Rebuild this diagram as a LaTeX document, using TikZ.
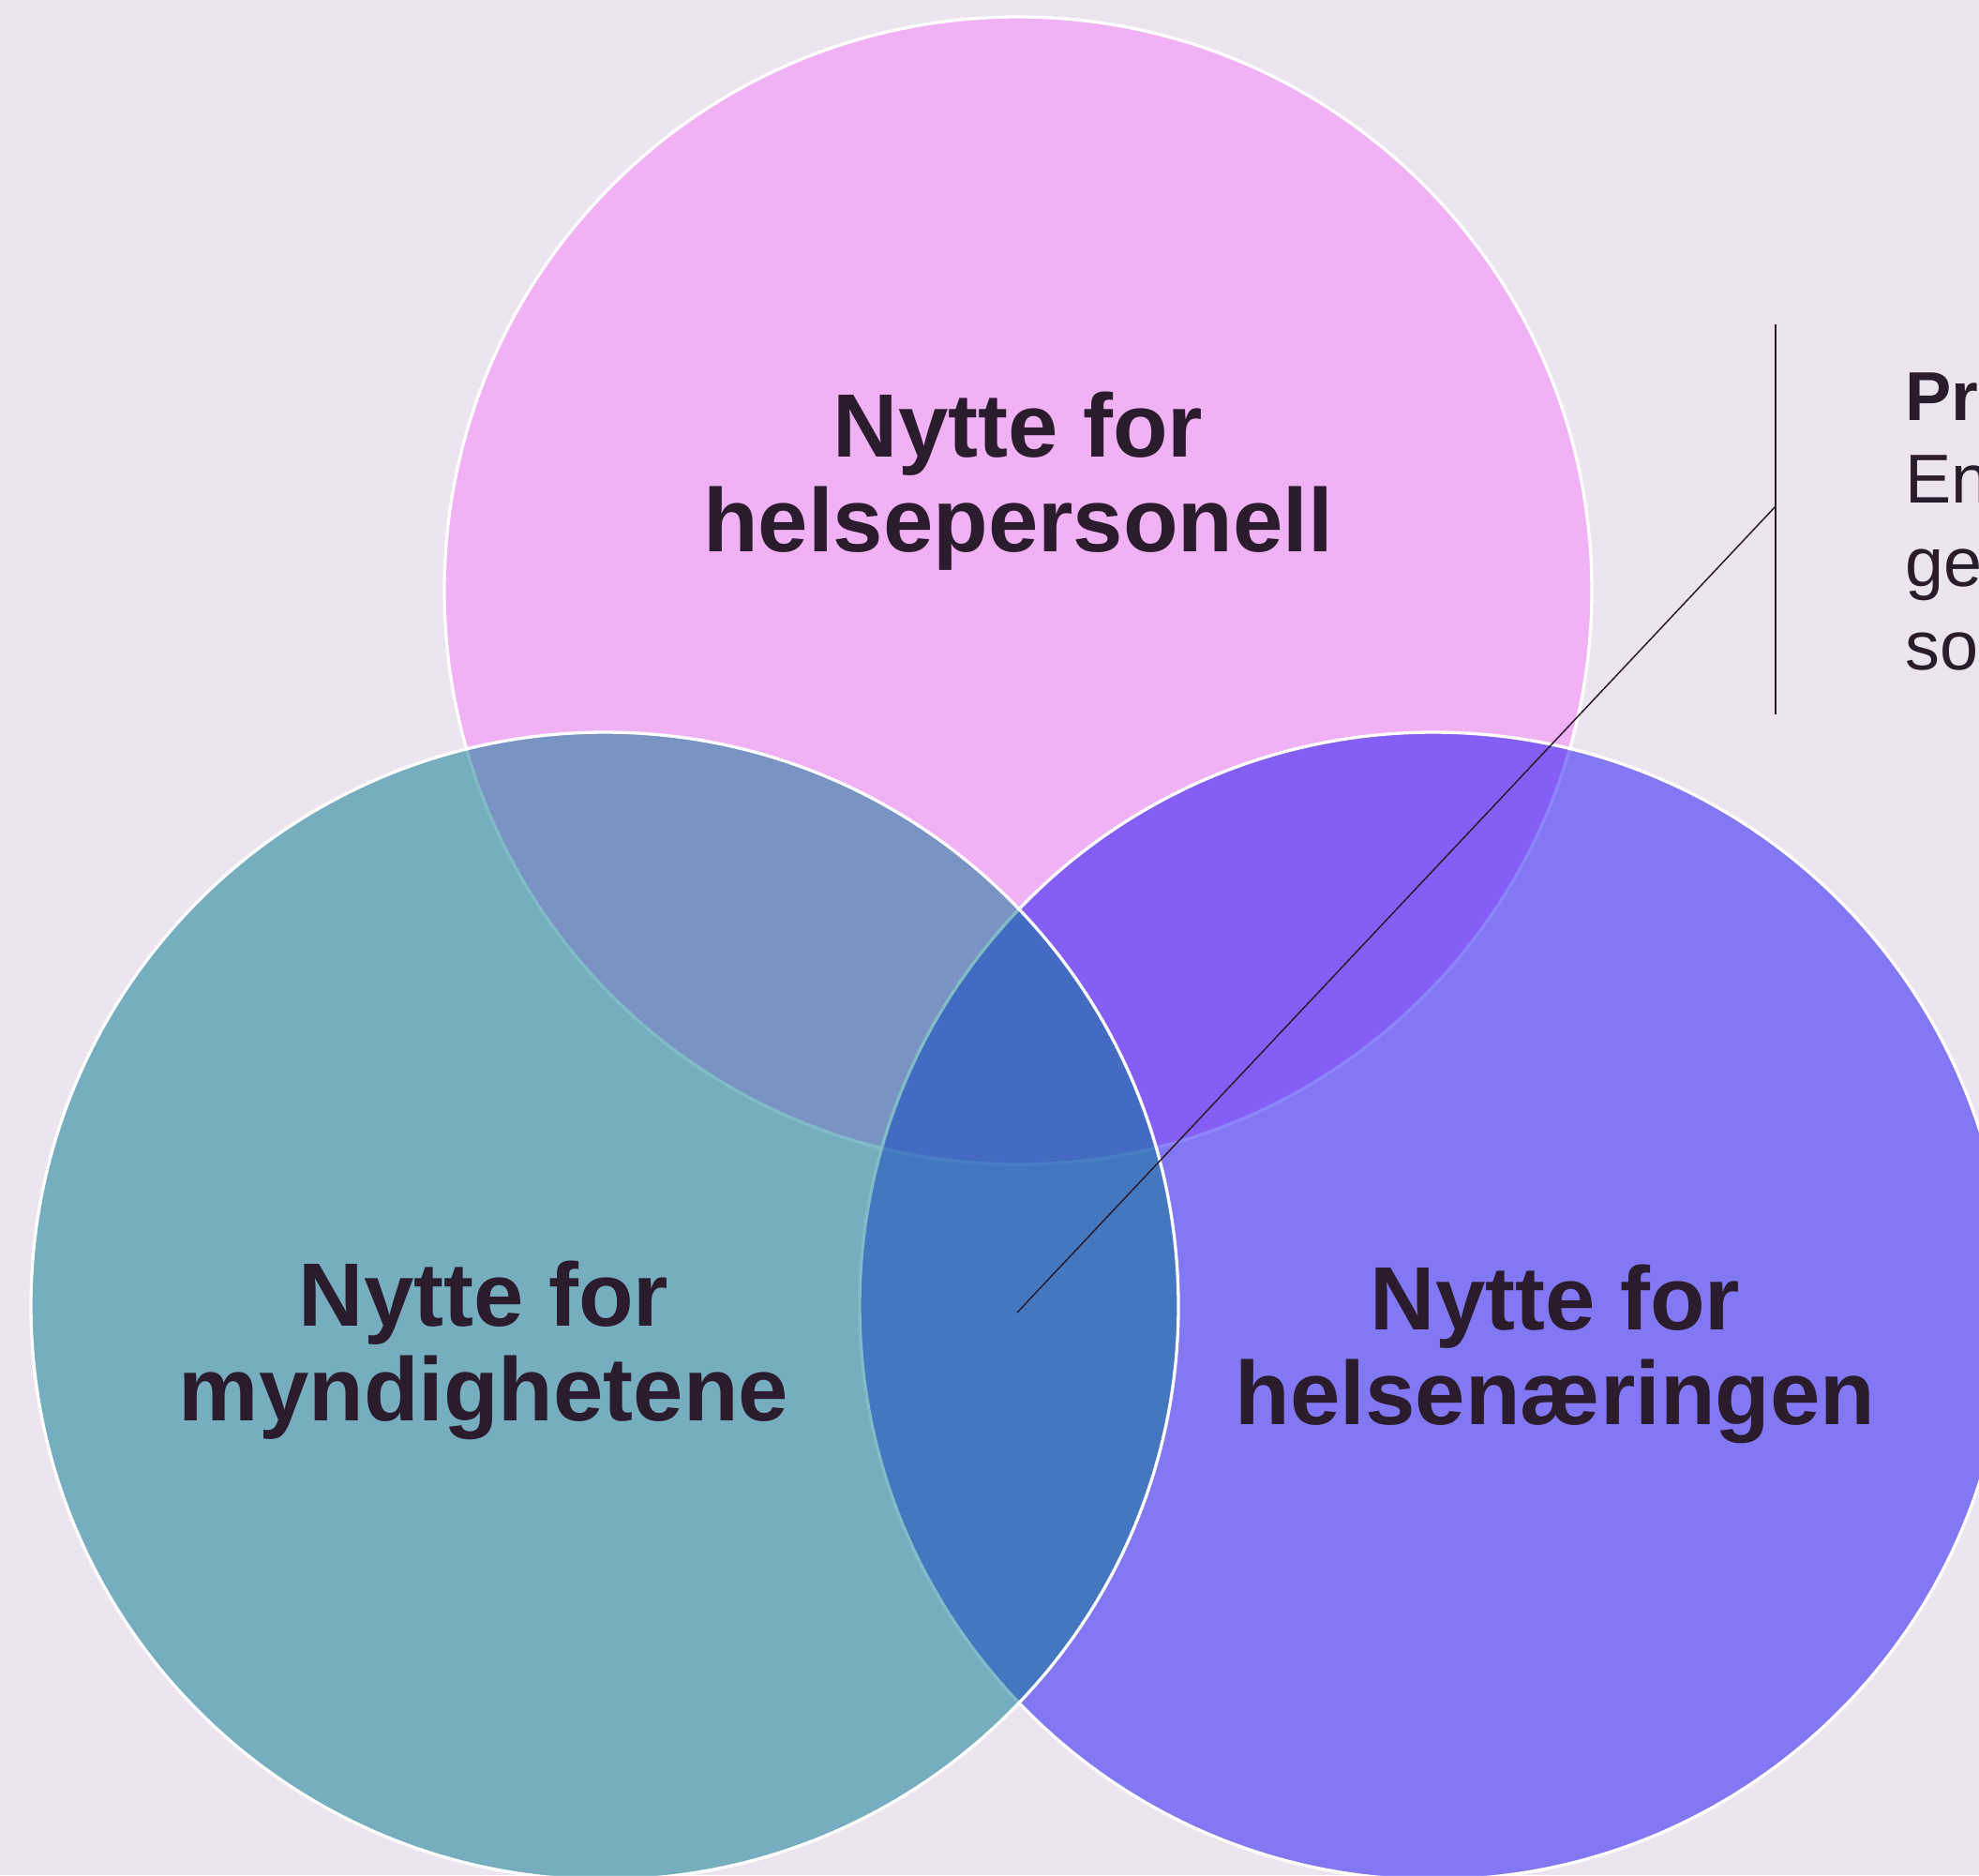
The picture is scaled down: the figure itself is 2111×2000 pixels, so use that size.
\documentclass[tikz,border=0pt]{standalone}
\usepackage{fontspec}
\setmainfont{Liberation Sans}
\definecolor{bg}{HTML}{ECE5F0}
\definecolor{ink}{HTML}{2A1C2C}
\definecolor{pinkfill}{HTML}{F47FFA}
\definecolor{violetfill}{HTML}{1C0DF8}
\definecolor{tealfill}{HTML}{047990}
\begin{document}
\begin{tikzpicture}[x=0.1mm,y=-0.1mm,
  venn/.style={circle, minimum size=122.4mm, inner sep=0pt, draw=white,
               line width=0.33mm, fill opacity=0.5},
  biglabel/.style={font=\fontsize{27.3}{28.7}\selectfont\bfseries, text=ink,
                   align=center, inner sep=0pt, anchor=base},
  calloutline/.style={draw=ink, line width=0.15mm},
  callouttext/.style={font=\fontsize{21}{25.2}\selectfont, text=ink,
                      align=left, inner sep=0pt, anchor=base west}]
  % canvas
  \fill[bg] (0,0) rectangle (2111,2000);
  \useasboundingbox (0,0) rectangle (2111,2000);
  \clip (0,0) rectangle (2111,2000);

  % the three sets
  \node[venn, fill=pinkfill]   (ctop)   at (1086,630)  {};
  \node[venn, fill=violetfill] (cright) at (1529,1393) {};
  \node[venn, fill=tealfill]   (cleft)  at (645,1393)  {};

  % set labels (anchored on the baseline of the last line)
  \node[biglabel] (ltop)   at (1086,588)  {Nytte for\\helsepersonell};
  \node[biglabel] (lleft)  at (516,1515)  {Nytte for\\myndighetene};
  \node[biglabel] (lright) at (1659,1519) {Nytte for\\helsenæringen};

  % callout from the common intersection
  \coordinate (core)   at (1085,1400);
  \coordinate (knee)   at (1894,540);
  \coordinate (bartop) at (1894,346);
  \coordinate (barbot) at (1894,762);
  \draw[calloutline] (core) -- (knee);
  \draw[calloutline] (bartop) -- (barbot);
  \node[callouttext] (note) at (2032,714) {\textbf{Pr}\\En\\ge\\so};
\end{tikzpicture}
\end{document}
